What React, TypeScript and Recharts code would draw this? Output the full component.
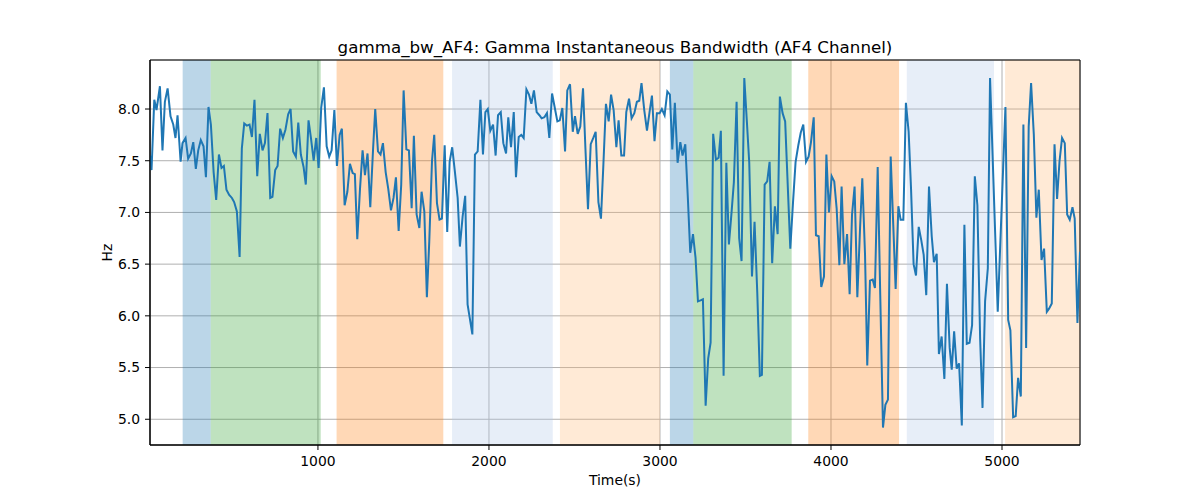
import React from "react"
import {
  LineChart,
  Line,
  XAxis,
  YAxis,
  CartesianGrid,
  ReferenceArea,
} from "recharts"

// time (s) and gamma bandwidth (Hz)
const times = [
  18, 27, 43, 56, 76, 91, 105, 121, 138, 154, 167, 179, 197, 208, 226, 241, 257, 271, 286, 300,
  315, 331, 345, 360, 374, 390, 405, 421, 436, 450, 465, 481, 497, 510, 526, 542, 555, 569, 584, 600,
  614, 629, 645, 660, 676, 690, 705, 721, 734, 750, 764, 779, 795, 810, 826, 840, 855, 871, 885, 900,
  916, 929, 945,
  959, 975, 990, 1004, 1019, 1035, 1051, 1066, 1080, 1096, 1111, 1127, 1140, 1156, 1172, 1187, 1203, 1216, 1230, 1246,
  1261, 1275, 1290, 1306, 1322, 1335, 1351, 1366, 1380, 1396, 1411, 1427, 1442, 1456, 1472, 1487, 1501, 1517, 1532, 1548,
  1561, 1577, 1593, 1606, 1622, 1637, 1651, 1667, 1680, 1696, 1711, 1725, 1741, 1756, 1770, 1785, 1801, 1817, 1830, 1846,
  1861, 1875,
  1903, 1918, 1934, 1950, 1965, 1979, 1993, 2008, 2024, 2039, 2053, 2069, 2084, 2100, 2113, 2129, 2145, 2158, 2174, 2189,
  2203, 2219, 2234, 2248, 2263, 2279, 2295, 2308, 2324, 2339, 2353, 2369, 2384, 2400, 2414, 2429, 2445, 2458, 2474, 2490,
  2503, 2519, 2534, 2550, 2564, 2579, 2595, 2610, 2624, 2640, 2655, 2669, 2684, 2700, 2714, 2729, 2745, 2758, 2774, 2790,
  2803, 2819,
  2834, 2850, 2865, 2879, 2892, 2908, 2924, 2939, 2953, 2968, 2982, 2998, 3011, 3027, 3043, 3058, 3072, 3087, 3103, 3119,
  3132, 3148, 3163, 3177, 3193, 3208, 3222, 3237, 3251, 3267, 3282, 3296, 3311, 3327, 3343, 3356, 3372, 3388, 3403, 3419,
  3432, 3448, 3463, 3477, 3493, 3508, 3522, 3538, 3553, 3569, 3584, 3596, 3612, 3627, 3641, 3656, 3672, 3688, 3701, 3717,
  3732,
  3762, 3778, 3793, 3809, 3823, 3838, 3854, 3869, 3883, 3899, 3912, 3928, 3943, 3959, 3973, 3988, 4004, 4019, 4033, 4049,
  4062, 4078, 4094, 4109, 4123, 4138, 4154, 4170, 4183, 4199, 4212, 4228, 4244, 4257, 4273, 4288, 4304, 4318, 4333, 4349,
  4364, 4378, 4394, 4407, 4423, 4438, 4454, 4468, 4483, 4497, 4513, 4528, 4542, 4557, 4573, 4589, 4602, 4618, 4631, 4647,
  4663, 4678, 4694,
  4706, 4720, 4735, 4749, 4765, 4780, 4794, 4810, 4825, 4841, 4856, 4872, 4886, 4901, 4917, 4930, 4975, 5020, 5036, 5049,
  5065, 5080, 5094, 5110, 5125, 5141, 5156, 5170, 5186, 5201, 5215, 5231, 5246, 5262, 5275, 5291, 5307, 5322, 5336, 5351,
  5367, 5381, 5396, 5412, 5425, 5441, 5456,
]

const bandwidth = [
  7.55, 7.41, 8.09, 7.99, 8.22, 7.60, 8.07, 8.20, 7.93, 7.85, 7.72, 7.94, 7.49, 7.67, 7.72, 7.52, 7.57, 7.68, 7.42, 7.60,
  7.70, 7.64, 7.34, 8.02, 7.85, 7.39, 7.12, 7.56, 7.43, 7.45, 7.22, 7.17, 7.14, 7.10, 7.01, 6.57, 7.62, 7.86, 7.84, 7.85,
  7.73, 8.09, 7.35, 7.76, 7.60, 7.67, 7.96, 7.14, 7.15, 7.41, 7.45, 7.81, 7.72, 7.80, 7.95, 8.00, 7.59, 7.54, 7.87, 7.56,
  7.44, 7.27, 7.89,
  7.72, 7.50, 7.72, 7.43, 8.01, 8.21, 7.64, 7.54, 7.60, 7.99, 7.45, 7.75, 7.81, 7.07, 7.20, 7.47, 7.38, 7.37, 6.74, 7.23,
  7.60, 7.36, 7.57, 7.05, 7.60, 8.00, 7.59, 7.56, 7.67, 7.39, 7.23, 7.02, 7.14, 7.34, 6.82, 7.27, 8.18, 7.61, 7.60, 7.04,
  7.74, 6.98, 6.85, 7.20, 7.01, 6.18, 6.72, 7.50, 7.75, 7.09, 6.93, 6.94, 7.65, 6.81, 7.49, 7.63, 7.39, 7.14, 6.67, 6.96,
  7.16, 6.11,
  5.82, 7.56, 7.59, 8.09, 7.56, 7.97, 8.00, 7.79, 7.85, 7.55, 7.94, 7.97, 7.67, 7.57, 7.92, 7.63, 7.97, 7.34, 7.73, 7.75,
  7.72, 8.19, 8.14, 8.05, 8.18, 7.97, 7.94, 7.91, 7.92, 7.96, 7.72, 8.15, 8.02, 7.88, 7.89, 8.01, 7.59, 8.18, 8.24, 7.78,
  7.93, 7.76, 7.83, 8.20, 7.62, 7.03, 7.66, 7.72, 7.78, 7.10, 6.94, 7.46, 8.05, 7.88, 8.14, 7.99, 7.63, 7.89, 7.55, 7.55,
  7.97, 8.10,
  7.91, 7.96, 8.07, 8.08, 8.25, 7.99, 7.79, 7.97, 8.13, 7.69, 7.96, 7.96, 8.00, 7.94, 8.17, 8.14, 7.61, 8.06, 7.48, 7.68,
  7.55, 7.66, 7.14, 6.61, 6.79, 6.56, 6.14, 6.15, 6.16, 5.13, 5.59, 5.74, 7.76, 7.51, 7.53, 7.79, 5.42, 7.48, 6.69, 7.01,
  7.29, 8.07, 6.75, 6.53, 8.30, 7.88, 7.48, 6.38, 6.91, 6.22, 5.42, 5.43, 7.27, 7.30, 7.49, 6.51, 7.06, 6.79, 8.12, 7.96,
  7.88,
  6.65, 7.10, 7.49, 7.65, 7.77, 7.85, 7.49, 7.54, 7.68, 7.92, 6.78, 6.77, 6.28, 6.38, 7.56, 7.00, 7.35, 7.30, 7.04, 6.49,
  7.25, 6.50, 6.79, 6.21, 6.98, 7.25, 6.18, 6.85, 7.33, 6.59, 5.52, 6.34, 6.35, 6.27, 7.44, 6.20, 4.92, 5.14, 5.19, 7.54,
  6.88, 6.26, 7.06, 6.93, 6.93, 8.06, 7.78, 7.23, 6.50, 6.39, 6.86, 6.73, 6.59, 6.20, 7.25, 6.77, 6.52, 6.60, 5.63, 5.80,
  5.39, 6.31, 5.69,
  5.48, 5.85, 5.49, 5.54, 4.94, 6.88, 5.73, 5.74, 5.91, 7.35, 7.07, 5.78, 5.11, 6.14, 6.46, 8.30, 6.04, 8.02, 5.96, 5.86,
  5.02, 5.03, 5.40, 5.22, 7.85, 5.69, 7.83, 8.25, 7.75, 6.95, 7.22, 6.54, 6.65, 6.04, 6.07, 6.12, 7.66, 7.13, 7.49, 7.72,
  7.67, 6.98, 6.93, 7.05, 6.94, 5.93, 6.62,
]

// shaded segments: start, end, colour
const spanStarts = [209, 373, 1109, 1784, 2415, 3058, 3195, 3867, 4443, 5018]
const spanEnds = [373, 1016, 1733, 2373, 3000, 3195, 3770, 4398, 4953, 5456]
const spanColors = [
  "#1f77b4", "#2ca02c", "#ff7f0e", "#aec7e8", "#ffbb78",
  "#1f77b4", "#2ca02c", "#ff7f0e", "#aec7e8", "#ffbb78",
]

const xTicks = [1000, 2000, 3000, 4000, 5000]
const yTicks = [5.0, 5.5, 6.0, 6.5, 7.0, 7.5, 8.0]
const xDomain = [18, 5456]
const yDomain = [4.751, 8.474]

const font = "DejaVu Sans, sans-serif"

const data = times.map((t, i) => ({ t, v: bandwidth[i] }))

export default function App() {
  return (
    <div style={{ position: "absolute", left: 0, top: 0, width: 1200, height: 500, background: "#fff" }}>
      <LineChart
        width={1200}
        height={500}
        data={data}
        margin={{ top: 60, right: 120, bottom: 25, left: 90 }}
      >
        <CartesianGrid stroke="#b0b0b0" strokeWidth={1} />
        {spanStarts.map((s, i) => (
          <ReferenceArea
            key={i}
            x1={s}
            x2={spanEnds[i]}
            y1={yDomain[0]}
            y2={yDomain[1]}
            fill={spanColors[i]}
            fillOpacity={0.3}
            stroke="none"
            ifOverflow="hidden"
          />
        ))}
        <XAxis
          dataKey="t"
          type="number"
          domain={xDomain}
          ticks={xTicks}
          allowDataOverflow
          height={30}
          tickSize={5}
          tickMargin={6}
          axisLine={{ stroke: "#000" }}
          tickLine={{ stroke: "#000" }}
          tick={{ fill: "#000", fontSize: 13.9, fontFamily: font }}
        />
        <YAxis
          type="number"
          domain={yDomain}
          ticks={yTicks}
          allowDataOverflow
          width={60}
          tickSize={5}
          tickMargin={5}
          tickFormatter={(v: number) => v.toFixed(1)}
          axisLine={{ stroke: "#000" }}
          tickLine={{ stroke: "#000" }}
          tick={{ fill: "#000", fontSize: 13.9, fontFamily: font }}
        />
        <Line
          dataKey="v"
          type="linear"
          stroke="#1f77b4"
          strokeWidth={2}
          dot={false}
          isAnimationActive={false}
        />
        <ReferenceArea
          x1={xDomain[0]}
          x2={xDomain[1]}
          y1={yDomain[0]}
          y2={yDomain[1]}
          fill="none"
          stroke="#000"
          strokeWidth={1}
        />
      </LineChart>
      <svg
        width={1200}
        height={500}
        style={{ position: "absolute", left: 0, top: 0, pointerEvents: "none" }}
      >
        <text x={615} y={53} textAnchor="middle" fontSize={16.7} fontFamily={font} fill="#000">
          gamma_bw_AF4: Gamma Instantaneous Bandwidth (AF4 Channel)
        </text>
        <text x={615} y={485} textAnchor="middle" fontSize={13.9} fontFamily={font} fill="#000">
          Time(s)
        </text>
        <text
          x={112}
          y={252.5}
          textAnchor="middle"
          fontSize={13.9}
          fontFamily={font}
          fill="#000"
          transform="rotate(-90 112 252.5)"
        >
          Hz
        </text>
      </svg>
    </div>
  )
}
